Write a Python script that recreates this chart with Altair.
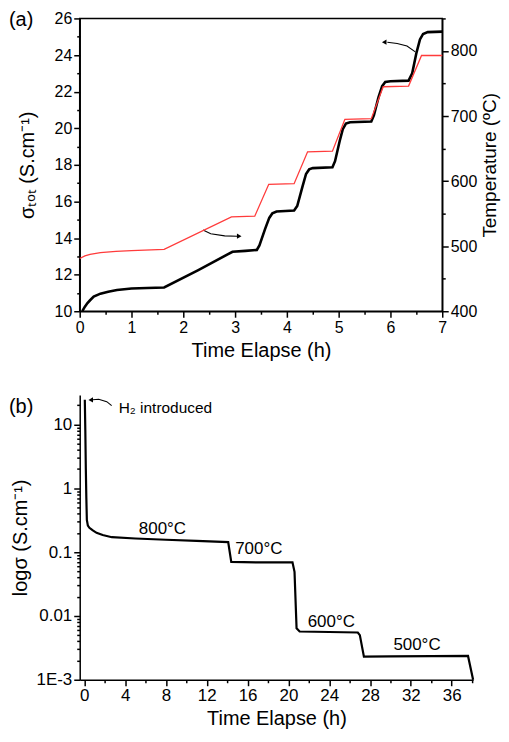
import altair as alt
import pandas as pd

# ---------------- Panel (a) data ----------------
a_time = [0.05, 0.1, 0.15, 0.2, 0.27, 0.4, 0.55, 0.72, 1.0, 1.3, 1.63, 2.29, 2.95, 3.2, 3.42,
          3.47, 3.58, 3.66, 3.72, 3.8, 4.14, 4.2, 4.3, 4.37, 4.43, 4.5, 4.88, 4.93, 5.02,
          5.08, 5.14, 5.22, 5.63, 5.68, 5.77, 5.84, 5.9, 6.0, 6.35, 6.42, 6.5, 6.57, 6.63,
          6.72, 7.0]
a_sigma = [10.0, 10.25, 10.45, 10.6, 10.8, 10.96, 11.07, 11.16, 11.24, 11.27, 11.3, 12.25,
           13.25, 13.3, 13.35, 13.6, 14.5, 15.1, 15.35, 15.45, 15.5, 15.75, 16.8, 17.5, 17.75,
           17.82, 17.87, 18.2, 19.3, 19.95, 20.25, 20.33, 20.37, 20.7, 21.7, 22.3, 22.53, 22.57,
           22.6, 23.0, 24.1, 24.85, 25.15, 25.25, 25.28]

a_temp_time = [0.0, 0.1, 0.2, 0.4, 0.7, 1.0, 1.63, 2.93, 3.38, 3.65, 4.14, 4.4, 4.88, 5.12,
               5.63, 5.86, 6.35, 6.6, 7.0]
a_temp = [481, 485, 487.5, 490, 492, 493, 495, 545, 546, 595, 596, 645, 646, 695, 696, 745,
          746, 793, 793]

a_arrow_id = [1, 1, 1, 1, 2, 2, 2, 2]
a_arrow_t = [2.38, 2.53, 2.80, 3.04, 6.48, 6.32, 6.13, 5.94]
a_arrow_s = [14.44, 14.23, 14.12, 14.10, 24.17, 24.49, 24.63, 24.70]
a_head_t = [3.08, 5.88]
a_head_s = [14.10, 24.70]
a_head_shape = ["triangle-right", "triangle-left"]

# ---------------- Panel (b) data ----------------
b_time = [0.05, 0.1, 0.15, 0.2, 0.25, 0.35, 0.5, 0.8, 1.2, 1.8, 2.7, 5.0, 8.0, 11.0, 14.1,
          14.4, 17.0, 20.4, 20.6, 20.8, 21.1, 24.0, 26.8, 27.0, 27.4, 30.0, 34.0, 37.6, 38.1]
b_sigma = [24.4, 8.0, 2.0, 0.7, 0.32, 0.26, 0.24, 0.22, 0.2, 0.185, 0.171, 0.163, 0.156,
           0.15, 0.143, 0.070, 0.069, 0.069, 0.049, 0.0064, 0.0057, 0.0056, 0.0055, 0.005,
           0.0023, 0.00232, 0.00234, 0.00236, 0.001]

b_label_text = ["800°C", "700°C", "600°C", "500°C", "H₂ introduced"]
b_label_t = [7.66, 17.1, 24.2, 32.6, 3.37]
b_label_s = [0.227, 0.112, 0.0081, 0.00355, 17.9]
b_label_align = ["center", "center", "center", "center", "left"]

b_arrow_t = [2.68, 2.2, 1.41, 0.83]
b_arrow_s = [19.7, 22.7, 24.8, 24.4]
b_head_t = [0.63]
b_head_s = [24.2]

a_xticks = [i * 0.5 for i in range(15)]
a_yticks = list(range(10, 27))
a_tticks = list(range(400, 851, 50))
b_xticks = list(range(0, 39, 2))
b_yticks = [round(m * 10.0 ** k, 6) for k in range(-3, 1) for m in range(1, 10)] + [10.0, 20.0]

FONT = "Liberation Sans"

# ---------------- Panel (a) ----------------
x_a = alt.X("t:Q", scale=alt.Scale(domain=[0, 7], nice=False, zero=False),
            axis=alt.Axis(values=a_xticks, title="Time Elapse (h)", labelFlush=False,
                          labelExpr="datum.value % 1 == 0 ? format(datum.value, 'd') : ''",
                          tickSize={"condition": {"test": "datum.value % 1 == 0", "value": 6}, "value": 3},
                          labelFontSize=16, titleFontSize=20, titlePadding=5))
y_a = alt.Y("s:Q", scale=alt.Scale(domain=[10, 26], nice=False, zero=False),
            axis=alt.Axis(values=a_yticks, title="σₜₒₜ (S.cm⁻¹)", labelFlush=False,
                          labelExpr="datum.value % 2 == 0 ? format(datum.value, 'd') : ''",
                          tickSize={"condition": {"test": "datum.value % 2 == 0", "value": 6}, "value": 3},
                          labelFontSize=16, titleFontSize=20, titlePadding=17))
y_temp = alt.Y("temp:Q", scale=alt.Scale(domain=[400, 850], nice=False, zero=False),
               axis=alt.Axis(values=a_tticks, orient="right", title="Temperature (ºC)",
                             labelFlush=False,
                             labelExpr="datum.value % 100 == 0 && datum.value <= 800 ? format(datum.value, 'd') : ''",
                             tickSize={"condition": {"test": "datum.value % 100 == 0", "value": 6}, "value": 3},
                             labelFontSize=16, titleFontSize=19, titleAngle=270,
                             titleBaseline="top", titlePadding=4))

df_a = pd.DataFrame({"t": a_time, "s": a_sigma})
df_temp = pd.DataFrame({"t": a_temp_time, "temp": a_temp})
df_arr_a = pd.DataFrame({"id": a_arrow_id, "t": a_arrow_t, "s": a_arrow_s})
df_head_a = pd.DataFrame({"t": a_head_t, "s": a_head_s, "shape": a_head_shape})

black_a = alt.Chart(df_a).mark_line(color="black", strokeWidth=2.6).encode(x=x_a, y=y_a)
arrows_a = alt.Chart(df_arr_a).mark_line(color="black", strokeWidth=1.1).encode(
    x=x_a, y=y_a, detail="id:N")
heads_a = alt.Chart(df_head_a).mark_point(filled=True, color="black", size=28, opacity=1).encode(
    x=x_a, y=y_a, shape=alt.Shape("shape:N", scale=None))
tag_a = alt.Chart(pd.DataFrame({"lab": ["(a)"]})).mark_text(
    align="left", baseline="middle", fontSize=20, font=FONT, color="black").encode(
    x=alt.value(-71), y=alt.value(2), text="lab:N")
red_a = alt.Chart(df_temp).mark_line(color="#ff3b3b", strokeWidth=1.3).encode(x=x_a, y=y_temp)

panel_a = alt.layer(
    alt.layer(black_a, arrows_a, heads_a, tag_a),
    red_a,
).resolve_scale(y="independent").properties(width=364, height=294)

# ---------------- Panel (b) ----------------
b_major = "datum.value == 10 || datum.value == 1 || datum.value == 0.1 || datum.value == 0.01 || datum.value == 0.001"
x_b = alt.X("t:Q", scale=alt.Scale(domain=[-0.45, 38.1], nice=False, zero=False),
            axis=alt.Axis(values=b_xticks, title="Time Elapse (h)", labelFlush=False,
                          labelExpr="datum.value % 4 == 0 ? datum.label : ''",
                          tickSize={"condition": {"test": "datum.value % 4 == 0", "value": 6}, "value": 3},
                          labelFontSize=17, titleFontSize=20, titlePadding=5))
y_b = alt.Y("s:Q", scale=alt.Scale(type="log", domain=[0.001, 29], nice=False),
            axis=alt.Axis(values=b_yticks, title="logσ (S.cm⁻¹)", labelFlush=False,
                          labelOverlap=False,
                          labelExpr="datum.value == 10 ? '10' : datum.value == 1 ? '1' : datum.value == 0.1 ? '0.1' : datum.value == 0.01 ? '0.01' : datum.value == 0.001 ? '1E-3' : ''",
                          tickSize={"condition": {"test": b_major, "value": 6}, "value": 3},
                          labelFontSize=17, titleFontSize=20, titlePadding=6))

df_b = pd.DataFrame({"t": b_time, "s": b_sigma})
df_lab_b = pd.DataFrame({"t": b_label_t, "s": b_label_s, "txt": b_label_text, "al": b_label_align})
df_arr_b = pd.DataFrame({"t": b_arrow_t, "s": b_arrow_s})
df_head_b = pd.DataFrame({"t": b_head_t, "s": b_head_s})

line_b = alt.Chart(df_b).mark_line(color="black", strokeWidth=2.2).encode(x=x_b, y=y_b)
lab_b = alt.Chart(df_lab_b[df_lab_b["al"] == "center"]).mark_text(
    align="center", baseline="middle", fontSize=17, font=FONT, color="black").encode(
    x=x_b, y=y_b, text="txt:N")
lab_h2 = alt.Chart(df_lab_b[df_lab_b["al"] == "left"]).mark_text(
    align="left", baseline="middle", fontSize=15.5, font=FONT, color="black").encode(
    x=x_b, y=y_b, text="txt:N")
arrow_b = alt.Chart(df_arr_b).mark_line(color="black", strokeWidth=1.1).encode(x=x_b, y=y_b)
head_b = alt.Chart(df_head_b).mark_point(filled=True, color="black", size=28, opacity=1,
                                         shape="triangle-left").encode(x=x_b, y=y_b)
tag_b = alt.Chart(pd.DataFrame({"lab": ["(b)"]})).mark_text(
    align="left", baseline="middle", fontSize=20, font=FONT, color="black").encode(
    x=alt.value(-71), y=alt.value(12), text="lab:N")

panel_b = alt.layer(line_b, lab_b, lab_h2, arrow_b, head_b, tag_b).properties(
    width=395, height=286, view=alt.ViewBackground(stroke=None))

chart = alt.vconcat(panel_a, panel_b, spacing=34).properties(padding=0).configure(
    font=FONT
).configure_axis(
    domainColor="black", domainWidth=1.5, tickColor="black", tickWidth=1.5,
    labelColor="black", titleColor="black", grid=False, labelFont=FONT, titleFont=FONT,
    titleFontWeight="normal", labelPadding=2
).configure_view(stroke="black", strokeWidth=1.5)

chart.save("out.html", embed_options={"renderer": "svg", "actions": False})
